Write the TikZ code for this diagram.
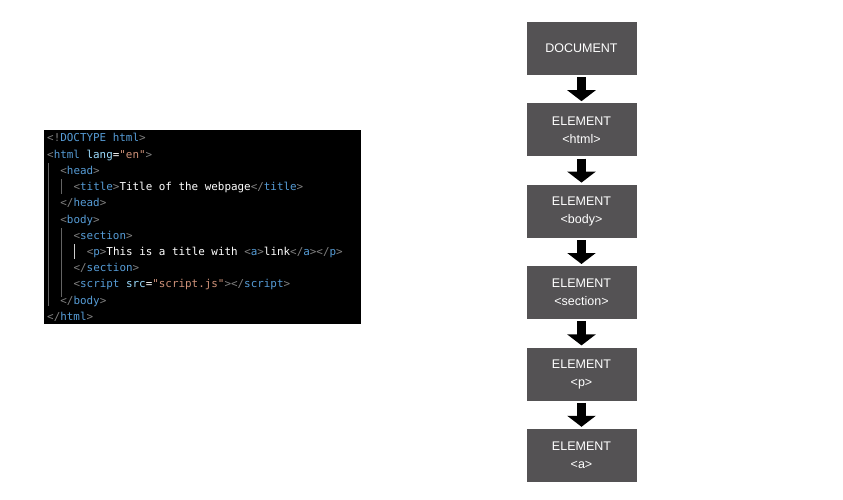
\documentclass[tikz,border=0pt]{standalone}
\usepackage{fontspec}
\setmainfont{Liberation Sans}
\setmonofont{DejaVu Sans Mono}
\usepackage{xcolor}
\usetikzlibrary{positioning,arrows.meta}

\definecolor{boxgrey}{RGB}{84,82,84}
\definecolor{tagc}{RGB}{86,156,214}
\definecolor{brk}{RGB}{128,128,128}
\definecolor{attr}{RGB}{156,220,254}
\definecolor{strc}{RGB}{206,145,120}
\definecolor{guide}{RGB}{100,100,100}

\newcommand{\optag}[1]{\textcolor{brk}{<}\textcolor{tagc}{#1}\textcolor{brk}{>}}
\newcommand{\cltag}[1]{\textcolor{brk}{</}\textcolor{tagc}{#1}\textcolor{brk}{>}}

\tikzset{
  dombox/.style={draw=none, fill=boxgrey, text=white, minimum width=110pt,
    minimum height=53pt, align=center, inner sep=0pt,
    font=\fontsize{12.5}{18}\selectfont},
  codeline/.style={anchor=base west, inner sep=0pt, text=white,
    font=\ttfamily\fontsize{10.9}{13}\selectfont},
  blockarrow/.style={line width=9pt, -{Triangle[width=28pt,length=11pt]}}
}

\begin{document}
\begin{tikzpicture}[x=1pt,y=-1pt]
    \useasboundingbox (0,0) rectangle (843,500);

    % Source code
    \node[fill=black, minimum width=317pt, minimum height=194pt, anchor=north west, inner sep=0pt] (code) at (44,130) {};

    % Indent guides
    \draw[guide, line width=0.8pt] (48,163) -- (48,306);
    \draw[guide, line width=0.8pt] (61,179) -- (61,194);
    \draw[guide, line width=0.8pt] (61,228) -- (61,297);
    \draw[white!80!black, line width=0.8pt] (74,244) -- (74,259);

    \node[codeline] (l1) at (47,142.0) {\textcolor{brk}{<!}\textcolor{tagc}{DOCTYPE html}\textcolor{brk}{>}};
    \node[codeline] (l2) at (47,158.2) {\textcolor{brk}{<}\textcolor{tagc}{html} \textcolor{attr}{lang}=\textcolor{strc}{"en"}\textcolor{brk}{>}};
    \node[codeline] (l3) at (60.2,174.4) {\optag{head}};
    \node[codeline] (l4) at (73.4,190.6) {\optag{title}Title of the webpage\cltag{title}};
    \node[codeline] (l5) at (60.2,206.8) {\cltag{head}};
    \node[codeline] (l6) at (60.2,223.0) {\optag{body}};
    \node[codeline] (l7) at (73.4,239.2) {\optag{section}};
    \node[codeline] (l8) at (86.6,255.4) {\optag{p}This is a title with \optag{a}link\cltag{a}\cltag{p}};
    \node[codeline] (l9) at (73.4,271.6) {\cltag{section}};
    \node[codeline] (l10) at (73.4,287.8) {\textcolor{brk}{<}\textcolor{tagc}{script} \textcolor{attr}{src}=\textcolor{strc}{"script.js"}\textcolor{brk}{>}\cltag{script}};
    \node[codeline] (l11) at (60.2,304.0) {\cltag{body}};
    \node[codeline] (l12) at (47,320.2) {\cltag{html}};

    % DOM tree
    \node[dombox] (doc) at (581.5,48.5) {DOCUMENT};
    \node[dombox, below=28pt of doc] (html) {ELEMENT\\<html>};
    \node[dombox, below=28pt of html] (body) {ELEMENT\\<body>};
    \node[dombox, below=28pt of body] (section) {ELEMENT\\<section>};
    \node[dombox, below=28pt of section] (p) {ELEMENT\\<p>};
    \node[dombox, below=28pt of p] (a) {ELEMENT\\<a>};

    % Arrows
    \draw[blockarrow] ([yshift=-2pt]doc.south) -- ([yshift=2pt]html.north);
    \draw[blockarrow] ([yshift=-2pt]html.south) -- ([yshift=2pt]body.north);
    \draw[blockarrow] ([yshift=-2pt]body.south) -- ([yshift=2pt]section.north);
    \draw[blockarrow] ([yshift=-2pt]section.south) -- ([yshift=2pt]p.north);
    \draw[blockarrow] ([yshift=-2pt]p.south) -- ([yshift=2pt]a.north);
\end{tikzpicture}
\end{document}
